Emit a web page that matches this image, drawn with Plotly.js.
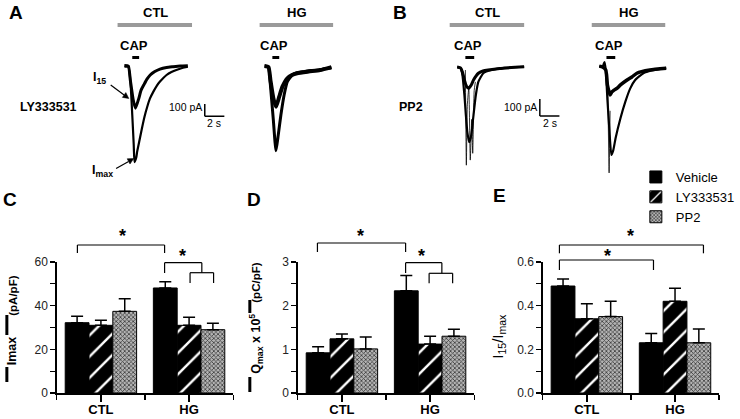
<!DOCTYPE html>
<html><head><meta charset="utf-8">
<script src="https://cdn.plot.ly/plotly-3.0.1.min.js"></script>
<style>html,body{margin:0;padding:0;background:#fff}#chart{width:740px;height:419px}</style>
</head><body><div id="chart"></div>
<script>
const W = 740, H = 419;

// ---------- bar chart data ----------
const categories = ['CTL', 'HG'];
const treatments = ['Vehicle', 'LY333531', 'PP2'];
// C: |Imax| (pA/pF)
const imaxVehicle = [32.2, 48.1], imaxVehicleErr = [2.9, 2.9];
const imaxLY = [31.0, 31.0],      imaxLYErr = [2.3, 3.7];
const imaxPP2 = [37.4, 29.0],     imaxPP2Err = [5.8, 2.9];
// D: |Qmax x 10^5| (pC/pF)
const qmaxVehicle = [0.92, 2.34], qmaxVehicleErr = [0.14, 0.35];
const qmaxLY = [1.24, 1.12],      qmaxLYErr = [0.11, 0.18];
const qmaxPP2 = [1.01, 1.30],     qmaxPP2Err = [0.27, 0.16];
// E: I15/Imax
const ratioVehicle = [0.49, 0.23], ratioVehicleErr = [0.032, 0.043];
const ratioLY = [0.34, 0.42],      ratioLYErr = [0.069, 0.06];
const ratioPP2 = [0.35, 0.23],     ratioPP2Err = [0.07, 0.063];

// ---------- current traces (time s, current pA) ----------
const aCtlT1 = [0,0.4,0.6,0.8,0.95,1.03,1.2,1.3,1.55,1.8,2.05,2.3,2.6,2.97,3.3,3.63,4.3,4.8,5.3,5.9,6.47];
const aCtlI1 = [0,-2,-107,-390,-631,-770,-735,-685,-589,-492,-403,-331,-258,-199,-154,-120,-67,-43,-27,-10,0];
const aCtlT2 = [0,0.4,0.6,0.9,1.13,1.47,1.7,1.97,2.3,2.63,3.1,3.63,4.3,4.97,5.7,6.47];
const aCtlI2 = [10,6,-107,-269,-335,-255,-189,-148,-100,-67,-39,-19,-6,0,6,8];

const aHgT1 = [0,0.4,0.6,0.9,1.17,1.4,1.67,2.0,2.33,2.83,3.4,4.0,4.8,5.67,6.2,6.83];
const aHgI1 = [14,6,-140,-423,-670,-544,-382,-220,-113,-59,-39,-32,-23,-19,-6,-2];
const aHgT2 = [0,0.4,0.6,0.9,1.17,1.5,1.83,2.33,2.8,3.33,4.5,5.67,6.83];
const aHgI2 = [14,6,-99,-245,-315,-234,-153,-85,-59,-45,-31,-19,5];

const bCtlT1 = [0,0.33,0.53,0.73,0.88,1.03,1.23,1.43,1.66,1.9,2.16,2.66,3.5,4.83,6.83];
const bCtlI1 = [8,2,-39,-157,-275,-375,-435,-394,-275,-157,-79,-29,-10,2,9];
const bCtlT2 = [0,0.33,0.53,0.73,0.93,1.16,1.43,1.66,2.16,2.63,3.16,4.33,6.83];
const bCtlI2 = [8,2,-22,-69,-104,-118,-98,-69,-29,-16,-10,-1,9];
const bCtlT3 = [0.83,0.93,1.03,1.18,1.33,1.48,1.58,1.73,1.85];
const bCtlI3 = [-10,-570,-215,-115,-540,-300,-500,-130,-80];

const bHgT1 = [0,0.33,0.53,0.66,0.83,1.03,1.23,1.43,1.66,2.16,2.66,3.16,3.66,4.5,5.33,6.83];
const bHgI1 = [13,8,37,-10,-186,-362,-510,-481,-412,-294,-196,-118,-69,-29,-13,2];
const bHgT2 = [0,0.33,0.66,0.83,1.1,1.28,1.5,1.83,2.16,2.83,3.33,3.83,5.16,6.83];
const bHgI2 = [13,8,-10,-98,-157,-139,-128,-116,-98,-69,-51,-29,-10,0];
const bHgT3 = [0.85,1.0,1.1];
const bHgI3 = [-30,-615,-250];

// ---------- helpers ----------
const PX = x => x / W, PY = y => 1 - y / H;
const xdom = (a, b) => [a / W, b / W];
const ydom = (top, bottom) => [1 - bottom / H, 1 - top / H];
const FONT = 'Arial, "Liberation Sans", Helvetica, sans-serif';

const traces = [];
function cur(t, i, ax, w) {
  traces.push({type: 'scatter', mode: 'lines', x: t, y: i, xaxis: 'x' + ax, yaxis: 'y' + ax,
    line: {color: '#000', width: w, shape: 'spline', smoothing: 0.5}, showlegend: false, hoverinfo: 'skip'});
}
cur(aCtlT1, aCtlI1, '', 2.2); cur(aCtlT2, aCtlI2, '', 3);
cur(aHgT1, aHgI1, '2', 3); cur(aHgT2, aHgI2, '2', 4);
cur(bCtlT1, bCtlI1, '3', 2.2); cur(bCtlT2, bCtlI2, '3', 3); cur(bCtlT3, bCtlI3, '3', 0.8);
cur(bHgT1, bHgI1, '4', 2.2); cur(bHgT2, bHgI2, '4', 3.5); cur(bHgT3, bHgI3, '4', 0.8);

const styles = [
  {color: '#000'},
  {color: '#000', pattern: {shape: '/', fgcolor: '#fff', bgcolor: '#000', size: 15, solidity: 0.16}},
  {color: '#8c8c8c', pattern: {shape: 'x', fgcolor: '#3a3a3a', bgcolor: '#b4b4b4', size: 3, solidity: 0.45}}
];
const xIdx = categories.map((c, i) => i);
function bars(vals, errs, ax, legend) {
  vals.forEach((v, k) => {
    traces.push({type: 'bar', name: treatments[k], x: xIdx, y: v, xaxis: 'x' + ax, yaxis: 'y' + ax,
      marker: Object.assign({line: {color: '#000', width: 1}}, styles[k]),
      error_y: {type: 'data', array: errs[k], arrayminus: errs[k].map(() => 0), symmetric: false,
        color: '#000', thickness: 1.5, width: 6},
      showlegend: legend, hoverinfo: 'skip'});
  });
}
bars([imaxVehicle, imaxLY, imaxPP2], [imaxVehicleErr, imaxLYErr, imaxPP2Err], '5', true);
bars([qmaxVehicle, qmaxLY, qmaxPP2], [qmaxVehicleErr, qmaxLYErr, qmaxPP2Err], '6', false);
bars([ratioVehicle, ratioLY, ratioPP2], [ratioVehicleErr, ratioLYErr, ratioPP2Err], '7', false);

const hidden = {visible: false, fixedrange: true, showgrid: false, zeroline: false};
function barX(domain, anchor) {
  return {domain, anchor, range: [-0.5, 1.5], tickmode: 'array', tickvals: xIdx,
    ticktext: categories.map(c => '<b>' + c + '</b>'), ticks: 'outside', ticklen: 7, tickwidth: 1.3,
    tickcolor: '#000', showline: true, linecolor: '#000', linewidth: 1.5, showgrid: false, zeroline: false,
    tickfont: {size: 13, color: '#000', family: FONT}, fixedrange: true, ticklabelstandoff: -3,
    minor: {tick0: 0.5, dtick: 1, ticks: 'outside', ticklen: 5, tickwidth: 1.3, tickcolor: '#000', showgrid: false}};
}
function barY(domain, anchor, range, dtick, minorDtick, fmt) {
  return {domain, anchor, range, dtick, tick0: 0, ticks: 'outside', ticklen: 5, tickwidth: 1.3, tickcolor: '#000',
    showline: true, linecolor: '#000', linewidth: 1.5, showgrid: false, zeroline: false, tickformat: fmt,
    tickfont: {size: 12, color: '#222', family: FONT}, fixedrange: true,
    minor: {dtick: minorDtick, ticks: 'outside', ticklen: 5, tickwidth: 1.3, tickcolor: '#000', showgrid: false}};
}

const shapes = [];
function seg(x0, y0, x1, y1, w, c) {
  shapes.push({type: 'line', xref: 'paper', yref: 'paper', x0: PX(x0), y0: PY(y0), x1: PX(x1), y1: PY(y1),
    line: {color: c || '#000', width: w || 1.2}});
}
function arrow(tx, ty, hx, hy) {
  const dx = hx - tx, dy = hy - ty, L = Math.hypot(dx, dy), ux = dx / L, uy = dy / L;
  const bx = hx - 6 * ux, by = hy - 6 * uy, qx = -uy * 3, qy = ux * 3;
  seg(tx, ty, bx, by, 1.2);
  shapes.push({type: 'path', xref: 'paper', yref: 'paper', fillcolor: '#000', line: {color: '#000', width: 0.5},
    path: `M${PX(hx)},${PY(hy)} L${PX(bx + qx)},${PY(by + qy)} L${PX(bx - qx)},${PY(by - qy)} Z`});
}
// gray condition bars
seg(120, 25, 196, 25, 4, '#9a9a9a'); seg(265, 25, 340, 25, 4, '#9a9a9a');
seg(459, 25, 535, 25, 4, '#9a9a9a'); seg(604, 25, 679, 25, 4, '#9a9a9a');
// CAP application bars
seg(135, 57.5, 142, 57.5, 3); seg(278, 57.5, 285, 57.5, 3);
seg(475, 57.5, 484, 57.5, 3); seg(619, 57.5, 628, 57.5, 3);
// I15 / Imax arrows
arrow(113, 85, 131.5, 98.5); arrow(118.5, 168.5, 136.5, 158.5);
// scale bars (data coords)
function dseg(ax, x0, y0, x1, y1) {
  shapes.push({type: 'line', xref: 'x' + ax, yref: 'y' + ax, x0, y0, x1, y1, line: {color: '#000', width: 1.5}});
}
dseg('', 8.2, -300, 8.2, -400); dseg('', 8.2, -400, 10.2, -400);
dseg('3', 8.43, -180, 8.43, -280); dseg('3', 8.43, -280, 10.43, -280);
// significance brackets C
seg(79, 245, 168, 245); seg(79, 245, 79, 253); seg(168, 245, 168, 253);
seg(168, 262.7, 206, 262.7); seg(168, 262.7, 168, 273); seg(206, 262.7, 206, 272.7);
seg(194, 272.7, 218, 272.7); seg(194, 272.7, 194, 283); seg(218, 272.7, 218, 283);
// D
seg(324, 243, 414, 243); seg(324, 243, 324, 252); seg(414, 243, 414, 252);
seg(414, 262.7, 451, 262.7); seg(414, 262.7, 414, 273); seg(451, 262.7, 451, 273.3);
seg(438, 273.3, 462, 273.3); seg(438, 273.3, 438, 283.3); seg(462, 273.3, 462, 283.3);
// E
seg(571, 245, 718, 245); seg(571, 245, 571, 253.3); seg(718, 245, 718, 253.3);
seg(571, 260, 667, 260); seg(571, 260, 571, 270); seg(667, 260, 667, 270);
// abs-value bars of axis titles
seg(7, 367, 7, 382, 3); seg(7, 315, 7, 335, 3);
seg(255, 377, 255, 392, 3); seg(255, 300, 255, 313, 3);

const annotations = [];
function ann(text, x, y, size, opts) {
  annotations.push(Object.assign({text, xref: 'paper', yref: 'paper', x: PX(x), y: PY(y), showarrow: false,
    xanchor: 'center', yanchor: 'middle', font: {size, color: '#000', family: FONT}}, opts || {}));
}
ann('<b>A</b>', 16.5, 12, 19); ann('<b>B</b>', 408, 12, 19);
ann('<b>C</b>', 10, 200, 19); ann('<b>D</b>', 259, 200, 19); ann('<b>E</b>', 510, 195, 19);
ann('<b>CTL</b>', 158.3, 12.5, 13); ann('<b>HG</b>', 302.7, 12.5, 13);
ann('<b>CTL</b>', 497.7, 12.5, 13); ann('<b>HG</b>', 641.7, 12.5, 13);
ann('<b>CAP</b>', 136.7, 45.5, 13); ann('<b>CAP</b>', 279.3, 45.5, 13);
ann('<b>CAP</b>', 477.3, 45.5, 13); ann('<b>CAP</b>', 621.7, 45.5, 13);
ann('<b>LY333531</b>', 49, 107, 12.5); ann('<b>PP2</b>', 419, 107, 12.5);
ann('<b>I<sub>15</sub></b>', 102, 78, 12.5); ann('<b>I<sub>max</sub></b>', 105, 171, 12.5);
// scale bar labels
annotations.push({text: '100 pA', xref: 'x', yref: 'y', x: 8.1, y: -327, xanchor: 'right', yanchor: 'middle',
  showarrow: false, font: {size: 10.5, color: '#000', family: FONT}});
annotations.push({text: '2 s', xref: 'x', yref: 'y', x: 9.15, y: -456, xanchor: 'center', yanchor: 'middle',
  showarrow: false, font: {size: 10.5, color: '#000', family: FONT}});
annotations.push({text: '100 pA', xref: 'x3', yref: 'y3', x: 8.33, y: -229, xanchor: 'right', yanchor: 'middle',
  showarrow: false, font: {size: 10.5, color: '#000', family: FONT}});
annotations.push({text: '2 s', xref: 'x3', yref: 'y3', x: 9.5, y: -322, xanchor: 'center', yanchor: 'middle',
  showarrow: false, font: {size: 10.5, color: '#000', family: FONT}});
// asterisks
ann('<b>*</b>', 125, 236, 18); ann('<b>*</b>', 186.7, 256, 18);
ann('<b>*</b>', 368.3, 236, 18); ann('<b>*</b>', 430, 256, 18);
ann('<b>*</b>', 643.3, 236, 18); ann('<b>*</b>', 620, 256, 18);
// axis titles (rotated)
ann('<b>Imax</b>', 12.5, 351, 12.5, {textangle: -90});
ann('<b>(pA/pF)</b>', 12.5, 295.5, 11.5, {textangle: -90});
ann('<b>Q<sub>max</sub> x 10<sup>5</sup></b>', 261, 344, 12.5, {textangle: -90});
ann('<b>(pC/pF)</b>', 261, 283, 11.5, {textangle: -90});
ann('I<sub>15</sub>/I<sub>max</sub>', 508, 336, 15, {textangle: -90});

const layout = {
  width: W, height: H, margin: {l: 0, r: 0, t: 0, b: 0}, paper_bgcolor: '#fff', plot_bgcolor: 'rgba(0,0,0,0)',
  font: {family: FONT, color: '#000'}, barmode: 'group', bargap: 0.19, bargroupgap: 0,
  xaxis: Object.assign({domain: xdom(122, 232), range: [-0.5, 10.5], anchor: 'y'}, hidden),
  yaxis: Object.assign({domain: ydom(48.1, 190.7), range: [-1000, 150], anchor: 'x'}, hidden),
  xaxis2: Object.assign({domain: xdom(265, 345), range: [-0.5, 7.5], anchor: 'y2'}, hidden),
  yaxis2: Object.assign({domain: ydom(49.1, 191.7), range: [-1000, 150], anchor: 'x2'}, hidden),
  xaxis3: Object.assign({domain: xdom(461.7, 571.7), range: [-0.5, 10.5], anchor: 'y3'}, hidden),
  yaxis3: Object.assign({domain: ydom(51.3, 187.3), range: [-700, 100], anchor: 'x3'}, hidden),
  xaxis4: Object.assign({domain: xdom(606.7, 686.7), range: [-0.5, 7.5], anchor: 'y4'}, hidden),
  yaxis4: Object.assign({domain: ydom(51.3, 187.3), range: [-700, 100], anchor: 'x4'}, hidden),
  xaxis5: barX(xdom(58, 238), 'y5'),
  yaxis5: barY(ydom(262, 393), 'x5', [0, 60], 20, 10, 'd'),
  xaxis6: barX(xdom(304, 484), 'y6'),
  yaxis6: barY(ydom(262, 393), 'x6', [0, 3], 1, 0.5, 'd'),
  xaxis7: barX(xdom(554, 734), 'y7'),
  yaxis7: barY(ydom(262, 393), 'x7', [0, 0.6], 0.2, 0.1, '.1f'),
  showlegend: true,
  legend: {x: PX(649), y: PY(162), xanchor: 'left', yanchor: 'top', bgcolor: 'rgba(0,0,0,0)',
    font: {size: 13, color: '#000', family: FONT}, tracegroupgap: 0, itemwidth: 30},
  shapes, annotations
};
Plotly.newPlot('chart', traces, layout, {staticPlot: true, displayModeBar: false});
</script></body></html>
